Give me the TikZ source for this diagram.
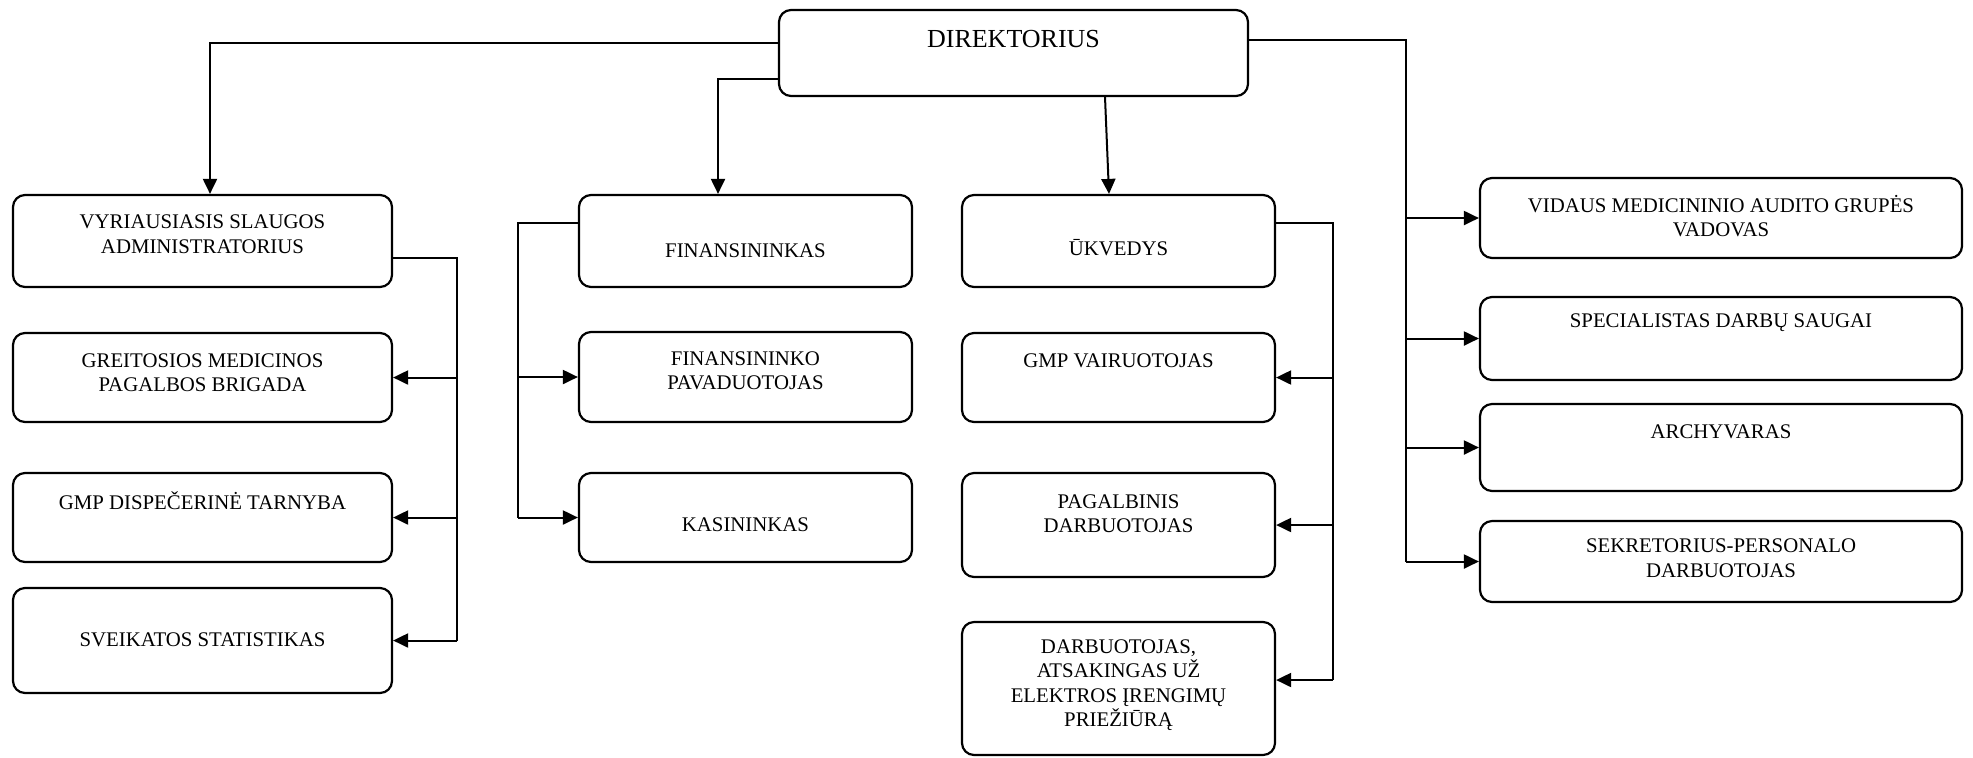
\documentclass[tikz,border=0pt]{standalone}
\usepackage{fontspec}
\setmainfont{Liberation Serif}
\usetikzlibrary{arrows.meta}

\begin{document}
\begin{tikzpicture}[x=0.5pt, y=-0.5pt,
        box/.style={draw, line width=1.1pt, rounded corners=6pt, inner sep=0pt},
        lbl/.style={anchor=center, align=center, inner sep=0pt, font=\fontsize{10.4}{12.3}\selectfont},
        link/.style={line width=1pt},
        arr/.style={line width=1pt, -{Triangle[length=7.5pt, width=7pt]}}]
            \useasboundingbox (0,0) rectangle (1973,757);

            % Director
            \node (dir) [box, minimum width=234.5pt, minimum height=43pt,
                label={[lbl, yshift=-15.25pt, font=\fontsize{13}{15}\selectfont]north:DIREKTORIUS}] at (1013.5,53) {};

            % Nursing column
            \node (vyr) [box, minimum width=189.5pt, minimum height=46pt,
                label={[lbl, yshift=-20.25pt]north:VYRIAUSIASIS SLAUGOS\\ADMINISTRATORIUS}] at (202.5,241) {};
            \node (greit) [box, minimum width=189.5pt, minimum height=44.5pt,
                label={[lbl, yshift=-20.35pt]north:GREITOSIOS MEDICINOS\\PAGALBOS BRIGADA}] at (202.5,377.5) {};
            \node (disp) [box, minimum width=189.5pt, minimum height=44.5pt,
                label={[lbl, yshift=-14.15pt]north:GMP DISPEČERINĖ TARNYBA}] at (202.5,517.5) {};
            \node (sveik) [box, minimum width=189.5pt, minimum height=52.5pt,
                label={[lbl, yshift=-26.65pt]north:SVEIKATOS STATISTIKAS}] at (202.5,640.5) {};

            % Finance column
            \node (fin) [box, minimum width=166.5pt, minimum height=46pt,
                label={[lbl, yshift=-28.5pt]north:FINANSININKAS}] at (745.5,241) {};
            \node (finpav) [box, minimum width=166.5pt, minimum height=45pt,
                label={[lbl, yshift=-19.9pt]north:FINANSININKO\\PAVADUOTOJAS}] at (745.5,377) {};
            \node (kas) [box, minimum width=166.5pt, minimum height=44.5pt,
                label={[lbl, yshift=-26.5pt]north:KASININKAS}] at (745.5,517.5) {};

            % Household column
            \node (ukv) [box, minimum width=156.5pt, minimum height=46pt,
                label={[lbl, yshift=-26.65pt]north:ŪKVEDYS}] at (1118.5,241) {};
            \node (vair) [box, minimum width=156.5pt, minimum height=44.5pt,
                label={[lbl, yshift=-14.65pt]north:GMP VAIRUOTOJAS}] at (1118.5,377.5) {};
            \node (pagalb) [box, minimum width=156.5pt, minimum height=52pt,
                label={[lbl, yshift=-20.85pt]north:PAGALBINIS\\DARBUOTOJAS}] at (1118.5,525) {};
            \node (darb) [box, minimum width=156.5pt, minimum height=66.5pt,
                label={[lbl, yshift=-32.1pt]north:DARBUOTOJAS,\\ATSAKINGAS UŽ\\ELEKTROS ĮRENGIMŲ\\PRIEŽIŪRĄ}] at (1118.5,688.5) {};

            % Staff under the director
            \node (vidaus) [box, minimum width=241pt, minimum height=40pt,
                label={[lbl, yshift=-19.5pt]north:VIDAUS MEDICININIO AUDITO GRUPĖS\\VADOVAS}] at (1721,218) {};
            \node (spec) [box, minimum width=241pt, minimum height=41.5pt,
                label={[lbl, yshift=-13.35pt]north:SPECIALISTAS DARBŲ SAUGAI}] at (1721,338.5) {};
            \node (arch) [box, minimum width=241pt, minimum height=43.5pt,
                label={[lbl, yshift=-14.35pt]north:ARCHYVARAS}] at (1721,447.5) {};
            \node (sekr) [box, minimum width=241pt, minimum height=40.5pt,
                label={[lbl, yshift=-19.25pt]north:SEKRETORIUS-PERSONALO\\DARBUOTOJAS}] at (1721,561.5) {};

            % Director to the heads
            \draw[arr] ([yshift=5pt]dir.west) -| ([xshift=3.75pt]vyr.north);
            \draw[arr] ([yshift=-13pt]dir.west) -| ([xshift=-13.75pt]fin.north);
            \draw[arr] ([xshift=45.75pt]dir.south) -- ([xshift=-4.75pt]ukv.north);
            \coordinate (rbus) at (1406,562);
            \draw[link] ([yshift=6.5pt]dir.east) -| (rbus);
            \foreach \n in {vidaus,spec,arch,sekr}
                \draw[arr] (rbus |- \n.west) -- (\n.west);

            % Nursing branch
            \coordinate (vbus) at (457,640.5);
            \draw[link] ([yshift=-8.5pt]vyr.east) -| (vbus);
            \foreach \n in {greit,disp,sveik}
                \draw[arr] (vbus |- \n.east) -- (\n.east);

            % Finance branch
            \coordinate (fbus) at (518,517.5);
            \draw[link] ([yshift=9pt]fin.west) -| (fbus);
            \foreach \n in {finpav,kas}
                \draw[arr] (fbus |- \n.west) -- (\n.west);

            % Household branch
            \coordinate (ubus) at (1333,680);
            \draw[link] ([yshift=9pt]ukv.east) -| (ubus);
            \foreach \n in {vair,pagalb}
                \draw[arr] (ubus |- \n.east) -- (\n.east);
            \draw[arr] (ubus) -- (ubus -| darb.east);
        \end{tikzpicture}
\end{document}
